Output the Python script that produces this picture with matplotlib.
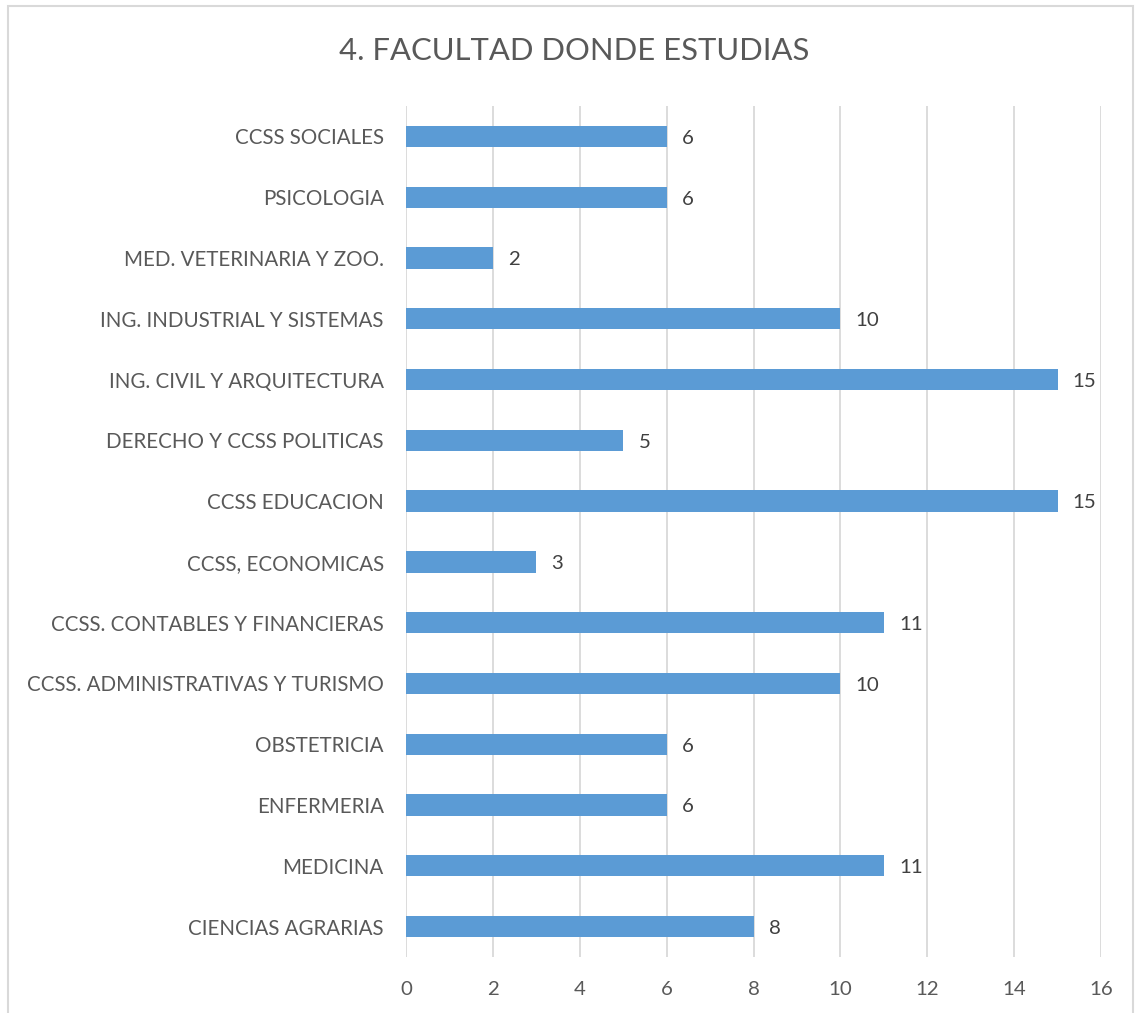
import matplotlib
matplotlib.use("Agg")
import matplotlib.pyplot as plt
from matplotlib.patches import Rectangle

categories = [
    "CIENCIAS AGRARIAS",
    "MEDICINA",
    "ENFERMERIA",
    "OBSTETRICIA",
    "CCSS. ADMINISTRATIVAS Y TURISMO",
    "CCSS. CONTABLES Y FINANCIERAS",
    "CCSS, ECONOMICAS",
    "CCSS EDUCACION",
    "DERECHO Y CCSS POLITICAS",
    "ING. CIVIL Y ARQUITECTURA",
    "ING. INDUSTRIAL Y SISTEMAS",
    "MED. VETERINARIA Y ZOO.",
    "PSICOLOGIA",
    "CCSS SOCIALES",
]
values = [8, 11, 6, 6, 10, 11, 3, 15, 5, 15, 10, 2, 6, 6]
xticks = [0, 2, 4, 6, 8, 10, 12, 14, 16]
title = "4. FACULTAD DONDE ESTUDIAS"

plt.rcParams['font.family'] = ['Lato', 'DejaVu Sans']
W, H = 1141, 1013
fig = plt.figure(figsize=(W / 100, H / 100), dpi=100)
fig.patch.set_facecolor("white")

# outer chart border
fig.patches.append(Rectangle((8 / W, -0.01), (1133 - 8) / W, 1 - 6 / H + 0.01,
                             transform=fig.transFigure, fill=False,
                             edgecolor="#D9D9D9", linewidth=1.5))

ax = fig.add_axes([406 / W, 1 - 957 / H, (1101 - 406) / W, (957 - 106) / H])
ypos = list(range(len(categories)))
ax.barh(ypos, values, height=0.35, color="#5B9BD5", zorder=3)
ax.set_xlim(0, 16)
ax.set_ylim(-0.5, len(categories) - 0.5)
ax.set_xticks(xticks)
ax.set_xticklabels([str(t) for t in xticks])
ax.set_yticks(ypos)
ax.set_yticklabels(categories)
ax.grid(axis="x", color="#D9D9D9", linewidth=1.3, zorder=0)
for s in ax.spines.values():
    s.set_visible(False)
ax.tick_params(axis="both", length=0, colors="#595959", labelsize=14.7)
ax.tick_params(axis="y", labelsize=14.8, pad=16)
ax.tick_params(axis="x", pad=17)
for y, v in zip(ypos, values):
    ax.text(v + 0.35, y - 0.03, str(v), va="center", ha="left", fontsize=14.7, color="#404040")

fig.text(574 / W, 1 - 51 / H, title, ha="center", va="center",
         fontsize=22.3, color="#595959")

fig.savefig("out.png", dpi=100)
